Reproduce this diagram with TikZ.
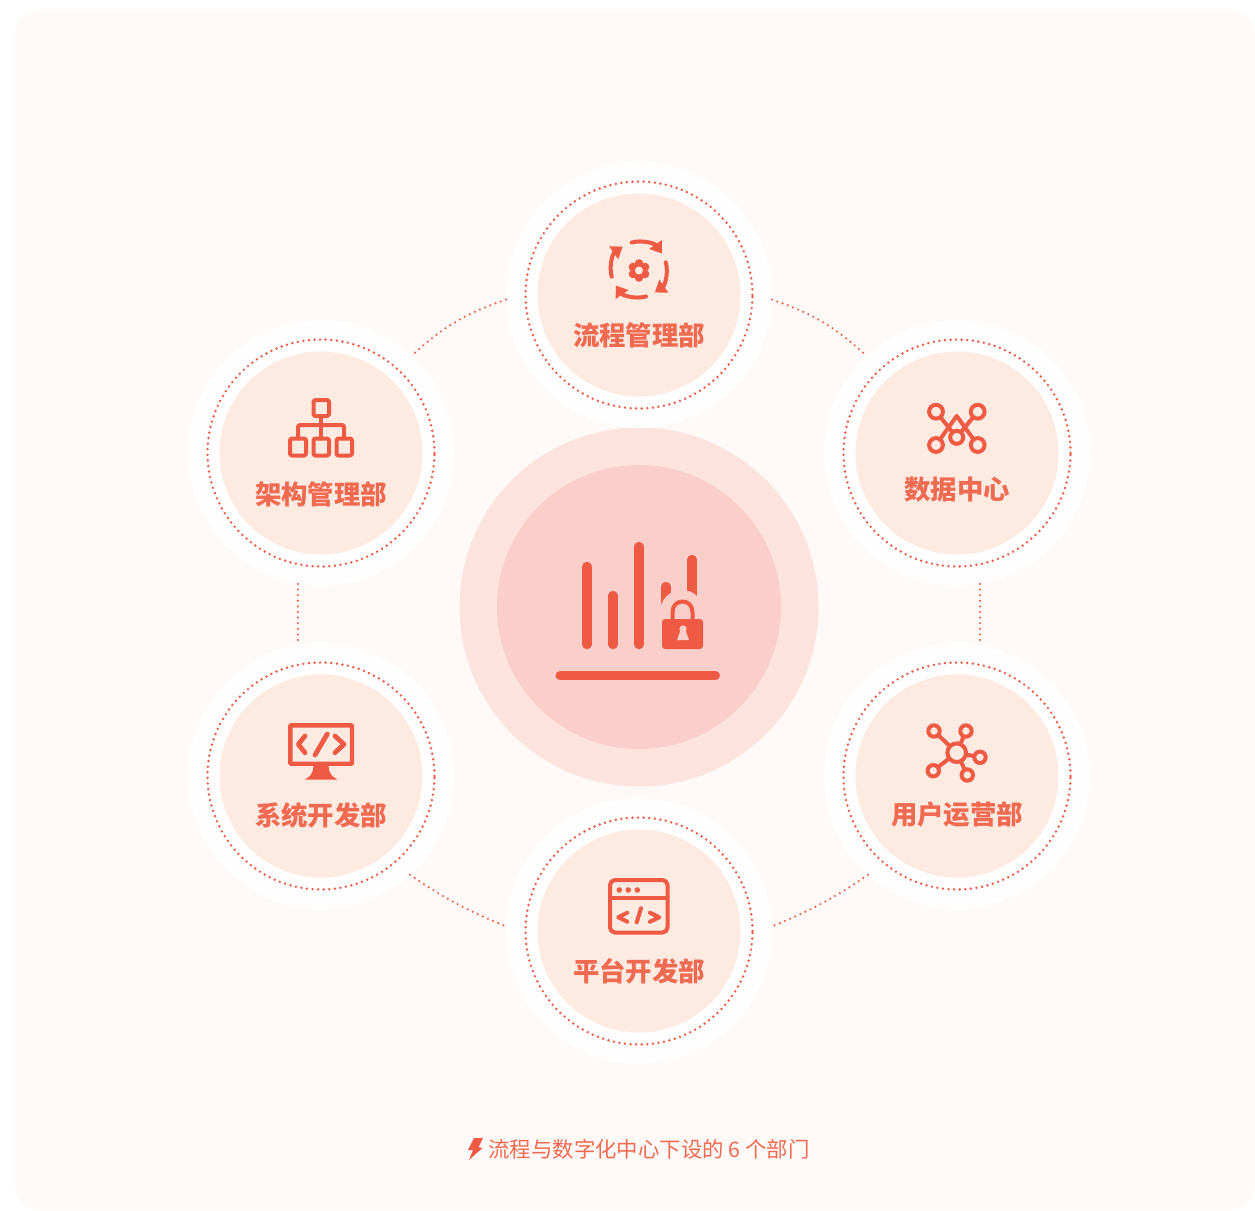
\documentclass[tikz,border=0pt]{standalone}
\usepackage{fontspec}
\setmainfont{Noto Sans CJK SC}
\usetikzlibrary{arrows.meta}
\definecolor{panelbg}{HTML}{FFF9F7}
\definecolor{ringbg}{HTML}{FFFEFE}
\definecolor{discbg}{HTML}{FDEBE2}
\definecolor{hubout}{HTML}{FCE3DE}
\definecolor{hubin}{HTML}{FACFC9}
\definecolor{iconred}{HTML}{EE5A43}
\definecolor{textred}{HTML}{F06A52}
\tikzset{
  ringnode/.style={circle,fill=ringbg,minimum size=133pt,inner sep=0pt,outer sep=0pt},
  dotnode/.style={circle,draw=iconred,line width=1.35pt,line cap=round,dash pattern=on 0pt off 2.8pt,minimum size=113.5pt,inner sep=0pt,outer sep=0pt},
  discnode/.style={circle,fill=discbg,minimum size=101.5pt,inner sep=0pt,outer sep=0pt},
  linkline/.style={draw=iconred,line width=1.15pt,line cap=round,dash pattern=on 0pt off 2.8pt},
  namenode/.style={text=textred,font=\fontsize{13.2pt}{15pt}\selectfont\bfseries,inner sep=0pt},
  iconline/.style={draw=iconred,line width=2pt,line cap=round,line join=round},
}
\begin{document}
\begin{tikzpicture}[x=0.5pt,y=-0.5pt]
\useasboundingbox (0,0) rectangle (1255,1211);
\fill[panelbg,rounded corners=12.5pt] (1255,10) -- (15,10) -- (15,1210) -- (1255,1210) -- cycle;

\node (hubout) at (639,607) [circle,fill=hubout,minimum size=179.5pt,inner sep=0pt] {};
\node (hubin) at (639,607) [circle,fill=hubin,minimum size=142pt,inner sep=0pt] {};

\node (flow) at (639,295) [ringnode] {};
\node (flowdot) at (639,295) [dotnode] {};
\node (flowdisc) at (639,295) [discnode] {};
\node (flowname) at (639,335) [namenode] {流程管理部};

\node (arch) at (321,453) [ringnode] {};
\node (archdot) at (321,453) [dotnode] {};
\node (archdisc) at (321,453) [discnode] {};
\node (archname) at (321,494) [namenode] {架构管理部};

\node (data) at (957,453) [ringnode] {};
\node (datadot) at (957,453) [dotnode] {};
\node (datadisc) at (957,453) [discnode] {};
\node (dataname) at (957,490) [namenode] {数据中心};

\node (sys) at (321,776) [ringnode] {};
\node (sysdot) at (321,776) [dotnode] {};
\node (sysdisc) at (321,776) [discnode] {};
\node (sysname) at (321,815) [namenode] {系统开发部};

\node (user) at (957,776) [ringnode] {};
\node (userdot) at (957,776) [dotnode] {};
\node (userdisc) at (957,776) [discnode] {};
\node (username) at (957,815) [namenode] {用户运营部};

\node (plat) at (639,931) [ringnode] {};
\node (platdot) at (639,931) [dotnode] {};
\node (platdisc) at (639,931) [discnode] {};
\node (platname) at (639,971) [namenode] {平台开发部};

\draw[linkline] (flow.182) to[bend right=12] (arch.47);
\draw[linkline] (flow.358) to[bend left=12] (data.133);
\draw[linkline] (arch.260) -- (sys.100);
\draw[linkline] (data.280) -- (user.80);
\draw[linkline] (sys.312) to[bend right=6] (plat.178);
\draw[linkline] (user.228) to[bend left=6] (plat.2);

% hub icon
\draw[iconline,line width=4.7pt] (587,566.5) -- (587,644.5);
\draw[iconline,line width=4.7pt] (613,595.5) -- (613,644.5);
\draw[iconline,line width=4.7pt] (639,546.5) -- (639,644.5);
\draw[iconline,line width=4.7pt] (666,586.5) -- (666,615);
\draw[iconline,line width=4.7pt] (692,559.5) -- (692,615);
\fill[hubin] (682,612) circle (22);
\draw[iconline,line width=4.5pt] (560,675.5) -- (715.5,675.5);
\draw[iconline,line cap=butt] (672.5,622) -- (672.5,612) .. controls (672.5,598) and (692.5,598) .. (692.5,612) -- (692.5,622);
\fill[iconred,rounded corners=1.5pt] (662,619) rectangle (703,649);
\fill[hubin] (683,629) circle (3.6);
\fill[hubin] (681,629) -- (685,629) -- (689,640) -- (677,640) -- cycle;

% flow icon
\draw[iconline,-{Triangle[width=7.5pt,length=5.5pt]}] (631.7,242.5) arc[start angle=255,end angle=325,radius=28];
\draw[iconline,-{Triangle[width=7.5pt,length=5.5pt]}] (665.8,262.3) arc[start angle=345,end angle=415,radius=28];
\draw[iconline,-{Triangle[width=7.5pt,length=5.5pt]}] (646,296.5) arc[start angle=75,end angle=145,radius=28];
\draw[iconline,-{Triangle[width=7.5pt,length=5.5pt]}] (611.7,276.7) arc[start angle=165,end angle=235,radius=28];
\fill[iconred] (639,270.5) circle (7.5);
\fill[iconred] (639,263.5) circle (4.3);
\fill[iconred] (645,267) circle (4.3);
\fill[iconred] (645,274) circle (4.3);
\fill[iconred] (639,277.5) circle (4.3);
\fill[iconred] (633,274) circle (4.3);
\fill[iconred] (633,267) circle (4.3);
\fill[discbg] (639,270.5) circle (4);

% arch icon
\draw[iconline,rounded corners=1pt] (313.5,400) rectangle (329,416);
\draw[iconline,rounded corners=1pt] (290,438.5) rectangle (306,455.5);
\draw[iconline,rounded corners=1pt] (313.5,438.5) rectangle (329,455.5);
\draw[iconline,rounded corners=1pt] (336.5,438.5) rectangle (352,455.5);
\draw[iconline] (321,416) -- (321,438.5);
\draw[iconline,rounded corners=1pt] (298,438.5) -- (298,425) -- (344,425) -- (344,438.5);

% data icon
\draw[iconline] (936,411.7) -- (956.7,437.3);
\draw[iconline] (977.7,411.7) -- (956.7,437.3);
\draw[iconline] (936,445) -- (956.7,416) -- (977.7,445);
\draw[iconline,fill=discbg] (936,411.7) circle (6.9);
\draw[iconline,fill=discbg] (977.7,411.7) circle (6.9);
\draw[iconline,fill=discbg] (936,445) circle (6.9);
\draw[iconline,fill=discbg] (977.7,445) circle (6.9);
\draw[iconline,fill=discbg] (956.7,437.3) circle (6.5);

% sys icon
\draw[iconline,line width=2.2pt,line join=miter,rounded corners=0.5pt] (290.3,725.3) rectangle (352,763.7);
\draw[iconline,line width=2.4pt] (305,736) -- (298.3,744.3) -- (305,752.7);
\draw[iconline,line width=2.4pt] (335,736) -- (344,744.3) -- (335,752.7);
\draw[iconline,line width=2.4pt] (327.3,734) -- (315,755);
\fill[iconred] (313.5,765) -- (328.5,765) .. controls (329,775) and (332,776) .. (337.5,779.5) -- (305,779.5) .. controls (310,776) and (313,775) .. (313.5,765) -- cycle;

% user icon
\draw[iconline] (956.7,752.7) -- (934,731);
\draw[iconline] (956.7,752.7) -- (966,731);
\draw[iconline] (956.7,752.7) -- (980,757.3);
\draw[iconline] (956.7,752.7) -- (967.3,775);
\draw[iconline] (956.7,752.7) -- (933.3,770.7);
\draw[iconline,fill=discbg] (956.7,752.7) circle (9.3);
\draw[iconline,fill=discbg] (934,731) circle (5.7);
\draw[iconline,fill=discbg] (966,731) circle (5.7);
\draw[iconline,fill=discbg] (980,757.3) circle (5.7);
\draw[iconline,fill=discbg] (967.3,775) circle (5.7);
\draw[iconline,fill=discbg] (933.3,770.7) circle (5.7);

% plat icon
\draw[iconline,rounded corners=2.5pt] (610,880) rectangle (667.5,932.5);
\draw[iconline,line cap=butt] (610,898.3) -- (667.5,898.3);
\fill[iconred] (619.3,890) circle (2.8);
\fill[iconred] (628.3,890) circle (2.8);
\fill[iconred] (637.3,890) circle (2.8);
\draw[iconline] (627.3,912.7) -- (618.3,917.3) -- (627.3,921.7);
\draw[iconline] (650,912.7) -- (659.3,917.3) -- (650,921.7);
\draw[iconline] (641,908.3) -- (636.7,922.3);

% caption
\fill[iconred] (474,1138) -- (483,1138) -- (478.5,1147) -- (482.5,1148) -- (469,1160) -- (473,1150) -- (468,1150) -- cycle;
\node (caption) at (488,1149) [anchor=west,text=textred,inner sep=0pt,font=\fontsize{10.7pt}{12pt}\selectfont] {流程与数字化中心下设的 6 个部门};
\end{tikzpicture}
\end{document}
